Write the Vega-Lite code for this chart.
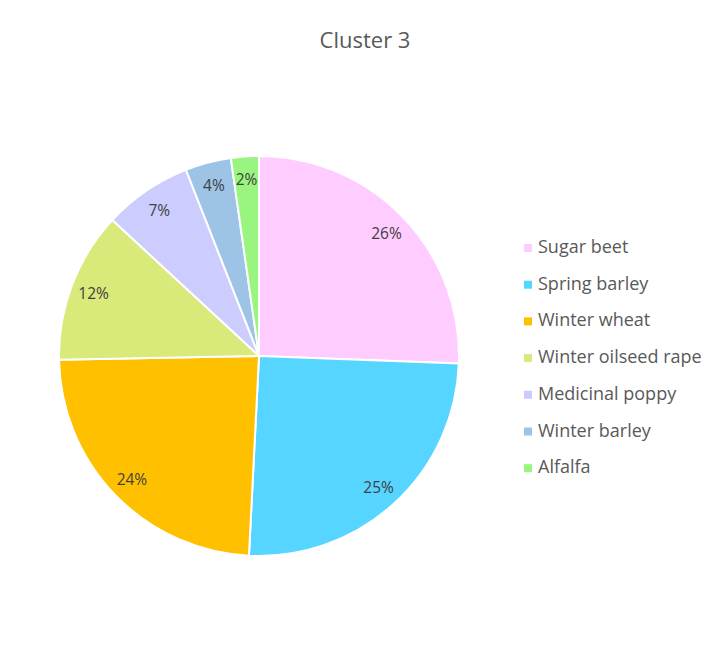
{
  "$schema": "https://vega.github.io/schema/vega-lite/v6.json",
  "autosize": "none",
  "padding": {"left": 0, "top": 100, "right": 195, "bottom": 43},
  "width": 518,
  "height": 512,
  "background": "white",
  "title": {
    "text": "Cluster 3",
    "font": "Open Sans",
    "fontSize": 22,
    "fontWeight": "normal",
    "color": "#595959",
    "anchor": "middle",
    "dx": 106,
    "offset": 47
  },
  "data": {
    "values": [
      {"crop": "Sugar beet", "share": 0.256, "order": 1},
      {"crop": "Spring barley", "share": 0.252, "order": 2},
      {"crop": "Winter wheat", "share": 0.239, "order": 3},
      {"crop": "Winter oilseed rape", "share": 0.122, "order": 4},
      {"crop": "Medicinal poppy", "share": 0.0715, "order": 5},
      {"crop": "Winter barley", "share": 0.037, "order": 6},
      {"crop": "Alfalfa", "share": 0.0225, "order": 7}
    ]
  },
  "encoding": {
    "theta": {"field": "share", "type": "quantitative", "stack": true},
    "order": {"field": "order", "type": "quantitative"},
    "color": {
      "field": "crop",
      "type": "nominal",
      "sort": ["Sugar beet", "Spring barley", "Winter wheat", "Winter oilseed rape", "Medicinal poppy", "Winter barley", "Alfalfa"],
      "scale": {
        "domain": ["Sugar beet", "Spring barley", "Winter wheat", "Winter oilseed rape", "Medicinal poppy", "Winter barley", "Alfalfa"],
        "range": ["#FFCCFF", "#55D5FF", "#FFC000", "#D9EA7A", "#CCCCFF", "#9DC3E6", "#99F57F"]
      },
      "legend": {
        "title": null,
        "orient": "none",
        "legendX": 519,
        "legendY": 139,
        "symbolType": "square",
        "symbolSize": 64,
        "symbolStrokeWidth": 0,
        "labelFont": "Open Sans",
        "labelFontSize": 18,
        "labelColor": "#595959",
        "labelOffset": 1,
        "labelLimit": 300,
        "rowPadding": 18.7
      }
    }
  },
  "layer": [
    {
      "mark": {"type": "arc", "outerRadius": 200, "stroke": "white", "strokeWidth": 2}
    },
    {
      "mark": {"type": "text", "radius": 177, "font": "Open Sans", "fontSize": 15.5, "fill": "#404040", "dy": 1},
      "encoding": {
        "text": {"field": "share", "type": "quantitative", "format": ".0%"},
        "color": {"value": "#404040"}
      }
    }
  ],
  "config": {
    "view": {"stroke": null}
  }
}
